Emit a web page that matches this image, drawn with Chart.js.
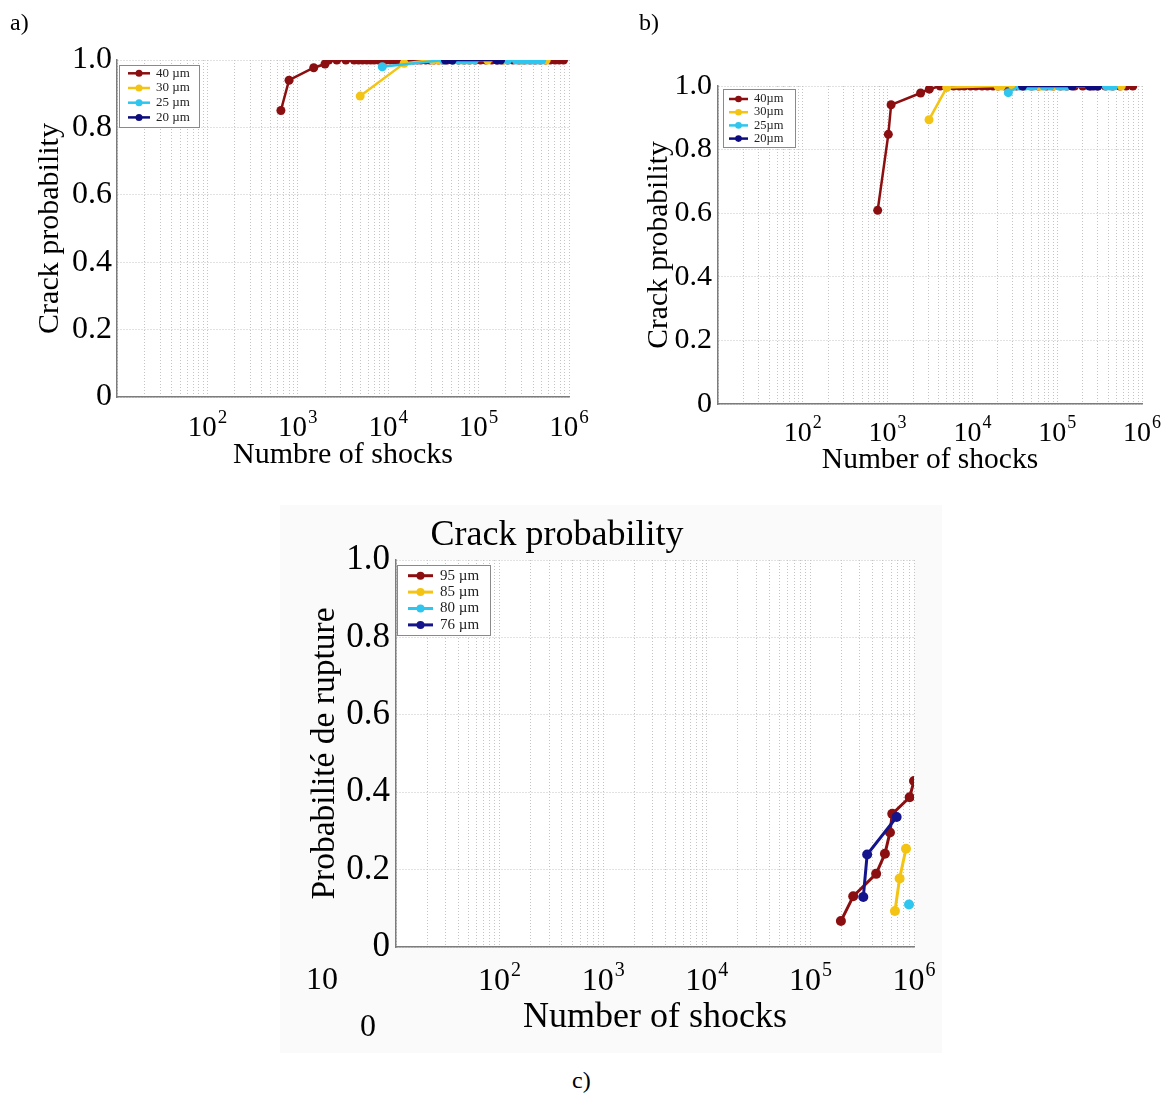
<!DOCTYPE html>
<html>
<head>
<meta charset="utf-8">
<script src="https://cdn.jsdelivr.net/npm/chart.js@4.4.0/dist/chart.umd.min.js"></script>
<style>
  body { margin: 0; background: #fff; width: 1163px; height: 1093px; position: relative; overflow: hidden;
         font-family: "Liberation Serif", "Times New Roman", serif; color: #000; }
  canvas { position: absolute; }
  .txt { position: absolute; line-height: 1; white-space: nowrap; }
</style>
</head>
<body>
<div style="position:absolute;left:280px;top:505px;width:662px;height:548px;background:#fafafa"></div>
<canvas id="chartA" width="600" height="480" style="left:0;top:0"></canvas>
<canvas id="chartB" width="563" height="480" style="left:600px;top:0"></canvas>
<canvas id="chartC" width="660" height="545" style="left:280px;top:505px"></canvas>

<div class="txt" style="left:10px;top:10px;font-size:24px">a)</div>
<div class="txt" style="left:639px;top:10px;font-size:24px">b)</div>
<div class="txt" style="left:572px;top:1068px;font-size:24px">c)</div>
<div class="txt" style="left:557px;top:533px;font-size:36px;transform:translate(-50%,-50%)">Crack probability</div>
<div class="txt" style="left:322px;top:978px;font-size:32px;transform:translate(-50%,-50%)">10</div>
<div class="txt" style="left:368px;top:1025px;font-size:32px;transform:translate(-50%,-50%)">0</div>

<script>
// axis ticks
const decades = [10, 100, 1000, 10000, 100000, 1000000]
const decadeBase = '10'
const decadeExps = ['', '2', '3', '4', '5', '6']
const probTicks = [0, 0.2, 0.4, 0.6, 0.8, 1.0]

// a) 40/30/25/20 µm
const shocksA40 = [650, 800, 1500, 2000, 2200, 2700, 3400, 4200, 4700, 5200, 5800, 6400, 7000, 7800, 8600, 9500,
  10500, 11500, 12700, 14000, 15500, 17000, 19000, 21000, 23000, 26000, 29000, 32000, 36000, 40000, 45000,
  52000, 60000, 70000, 80000, 92000, 105000, 120000, 140000, 160000, 185000, 210000, 240000, 280000, 320000,
  370000, 420000, 480000, 550000, 620000, 700000, 780000, 870000]
const probA40 = [0.85, 0.94, 0.977, 0.988, 1, 1, 1, 1, 1, 1, 1, 1, 1, 1, 1, 1,
  1, 1, 1, 1, 1, 1, 1, 1, 1, 1, 1, 1, 1, 1, 1,
  1, 1, 1, 1, 1, 1, 1, 1, 1, 1, 1, 1, 1, 1,
  1, 1, 1, 1, 1, 1, 1, 1]
const shocksA30 = [4900, 15000, 31000, 36000, 66000, 78000, 126000, 190000, 300000, 560000]
const probA30 = [0.893, 0.99, 1, 1, 1, 1, 1, 1, 1, 1]
const shocksA25 = [8600, 41000, 52000, 60000, 68000, 78000, 90000, 210000, 260000, 300000, 340000, 390000, 440000, 500000]
const probA25 = [0.98, 1, 1, 1, 1, 1, 1, 1, 1, 1, 1, 1, 1, 1]
const shocksA20 = [43000, 51000, 160000, 175000]
const probA20 = [1, 1, 1, 1]

// b) 40/30/25/20 µm
const shocksB40 = [764, 1020, 1100, 2450, 3100, 4170, 6000, 7000, 8000, 9500, 11000, 13000, 15000, 17500,
  20000, 24000, 28000, 33000, 40000, 50000, 60000, 75000, 90000, 110000, 130000, 160000, 200000, 250000,
  300000, 370000, 450000, 550000, 650000, 780000]
const probB40 = [0.609, 0.848, 0.941, 0.978, 0.99, 1, 1, 1, 1, 1, 1, 1, 1, 1,
  1, 1, 1, 1, 1, 1, 1, 1, 1, 1, 1, 1, 1, 1,
  1, 1, 1, 1, 1, 1]
const shocksB30 = [3080, 4980, 20000, 22000, 30000, 62000, 66000, 90000, 570000]
const probB30 = [0.894, 0.995, 1, 1, 1, 1, 1, 1, 1]
const shocksB25 = [26500, 36000, 42000, 48000, 53000, 70000, 83000, 105000, 120000, 130000, 380000, 420000, 460000]
const probB25 = [0.979, 1, 1, 1, 1, 1, 1, 1, 1, 1, 1, 1, 1]
const shocksB20 = [39000, 150000, 240000, 270000, 300000]
const probB20 = [1, 1, 1, 1, 1]

// c) 95/85/80/76 µm
const shocksC95 = [197000, 259000, 431000, 524000, 586000, 617000, 908000, 1000000]
const probC95 = [0.067, 0.131, 0.189, 0.241, 0.296, 0.344, 0.387, 0.429]
const shocksC85 = [655000, 726000, 837000]
const probC85 = [0.093, 0.177, 0.254]
const shocksC80 = [895000]
const probC80 = [0.11]
const shocksC76 = [324000, 353000, 680000]
const probC76 = [0.129, 0.239, 0.336]

const RED = '#8b0f10'
const YELLOW = '#f4c414'
const CYAN = '#2ec6ee'
const NAVY = '#0c0c7e'
const SERIF = '"Liberation Serif", "Times New Roman", serif'

// grid positions 10,20..90,100,200.. for the log axis
const logGrid = []
decades.slice(0, -1).forEach(function (d) {
  for (let k = 1; k <= 9; k++) logGrid.push(k * d)
})
logGrid.push(decades[decades.length - 1])

const whiteArea = {
  id: 'whiteArea',
  beforeDraw(chart) {
    const a = chart.chartArea
    chart.ctx.save()
    chart.ctx.fillStyle = '#fff'
    chart.ctx.fillRect(a.left, a.top, a.right - a.left, a.bottom - a.top)
    chart.ctx.restore()
  }
}

// "10" with a raised exponent under each decade
const decadeText = {
  id: 'decadeText',
  afterDraw(chart, args, o) {
    const ctx = chart.ctx
    const sx = chart.scales.x
    const y = chart.chartArea.bottom + o.base
    const small = Math.round(o.size * 0.64)
    ctx.save()
    ctx.fillStyle = '#000'
    ctx.textAlign = 'left'
    ctx.textBaseline = 'alphabetic'
    decades.forEach(function (d, i) {
      if (!decadeExps[i]) return
      const x = sx.getPixelForValue(d)
      ctx.font = o.size + 'px ' + SERIF
      const wb = ctx.measureText(decadeBase).width
      ctx.font = small + 'px ' + SERIF
      const we = ctx.measureText(decadeExps[i]).width
      const x0 = x - (wb + we + o.gap) / 2
      ctx.font = o.size + 'px ' + SERIF
      ctx.fillText(decadeBase, x0, y)
      ctx.font = small + 'px ' + SERIF
      ctx.fillText(decadeExps[i], x0 + wb + o.gap, y - o.size * 0.45)
    })
    ctx.restore()
  }
}

// legend drawn inside the plot, matlab style
const boxLegend = {
  id: 'boxLegend',
  afterDatasetsDraw(chart, args, o) {
    const ctx = chart.ctx
    const x0 = chart.chartArea.left + o.dx
    const y0 = chart.chartArea.top + o.dy
    ctx.save()
    ctx.fillStyle = '#fff'
    ctx.fillRect(x0, y0, o.w, o.h)
    ctx.strokeStyle = '#8a8a8a'
    ctx.lineWidth = 1
    ctx.strokeRect(x0 + 0.5, y0 + 0.5, o.w, o.h)
    ctx.font = o.size + 'px ' + SERIF
    ctx.textBaseline = 'middle'
    chart.data.datasets.forEach(function (ds, i) {
      const cy = y0 + o.first + i * o.row
      ctx.strokeStyle = ds.borderColor
      ctx.lineWidth = ds.borderWidth
      ctx.beginPath()
      ctx.moveTo(x0 + o.l0, cy)
      ctx.lineTo(x0 + o.l1, cy)
      ctx.stroke()
      ctx.fillStyle = ds.borderColor
      ctx.beginPath()
      ctx.arc(x0 + (o.l0 + o.l1) / 2, cy, o.r, 0, Math.PI * 2)
      ctx.fill()
      ctx.fillStyle = '#222'
      ctx.fillText(ds.label, x0 + o.tx, cy)
    })
    ctx.restore()
  }
}

function makeChart(id, series, cfg) {
  const gridOpts = { color: '#c4c4c4', lineWidth: 1, drawTicks: false }
  const borderOpts = { display: true, color: '#7c7c7c', width: 1.5, dash: [1, 2] }
  return new Chart(document.getElementById(id), {
    type: 'scatter',
    data: {
      datasets: series.map(function (s, i) {
        return {
          label: s.label,
          data: s.x.map(function (v, k) { return { x: v, y: s.y[k] } }),
          showLine: true,
          borderColor: s.color,
          backgroundColor: s.color,
          borderWidth: cfg.lineWidth,
          pointRadius: cfg.radius,
          pointHoverRadius: cfg.radius,
          pointBorderWidth: 0,
          order: series.length - i,
        }
      }),
    },
    options: {
      responsive: false,
      animation: false,
      events: [],
      layout: { padding: { left: 0, top: cfg.top, right: cfg.right, bottom: 0 } },
      plugins: {
        legend: { display: false },
        tooltip: { enabled: false },
        boxLegend: cfg.legend,
        decadeText: { size: cfg.xTickSize, base: cfg.xTickBase, gap: 1 },
      },
      scales: {
        x: {
          type: 'logarithmic',
          min: decades[0],
          max: decades[decades.length - 1],
          afterBuildTicks: function (s) { s.ticks = logGrid.map(function (v) { return { value: v } }) },
          afterFit: function (s) { s.height = cfg.xAxisH },
          ticks: { display: false, padding: 0 },
          grid: gridOpts,
          border: borderOpts,
          title: {
            display: true, text: cfg.xTitle, color: '#000',
            font: { family: SERIF, size: cfg.xTitleSize },
            padding: { top: 0, bottom: cfg.xTitlePad },
          },
        },
        y: {
          min: 0,
          max: 1,
          afterBuildTicks: function (s) { s.ticks = probTicks.map(function (v) { return { value: v } }) },
          afterFit: function (s) { s.width = cfg.yAxisW },
          ticks: {
            padding: cfg.yTickPad, color: '#000',
            font: { family: SERIF, size: cfg.yTickSize },
            callback: function (v) { return v === 0 ? '0' : v.toFixed(1) },
          },
          grid: gridOpts,
          border: borderOpts,
          title: {
            display: true, text: cfg.yTitle, color: '#000',
            font: { family: SERIF, size: cfg.yTitleSize },
            padding: { top: cfg.yTitlePad, bottom: 0 },
          },
        },
      },
    },
    plugins: [whiteArea, boxLegend, decadeText],
  })
}

makeChart('chartA', [
  { label: '40 µm', x: shocksA40, y: probA40, color: RED },
  { label: '30 µm', x: shocksA30, y: probA30, color: YELLOW },
  { label: '25 µm', x: shocksA25, y: probA25, color: CYAN },
  { label: '20 µm', x: shocksA20, y: probA20, color: NAVY },
], {
  top: 60, right: 31, yAxisW: 117, xAxisH: 83,
  xTickSize: 29, xTickBase: 39, yTickSize: 32, yTickPad: 5,
  xTitle: 'Numbre of shocks', xTitleSize: 30, xTitlePad: 7,
  yTitle: 'Crack probability', yTitleSize: 30, yTitlePad: 32,
  lineWidth: 2.5, radius: 4.5,
  legend: { dx: 2, dy: 5, w: 80, h: 62, first: 8.3, row: 14.7, l0: 9, l1: 31, r: 3.5, tx: 37, size: 13 },
})

makeChart('chartB', [
  { label: '40µm', x: shocksB40, y: probB40, color: RED },
  { label: '30µm', x: shocksB30, y: probB30, color: YELLOW },
  { label: '25µm', x: shocksB25, y: probB25, color: CYAN },
  { label: '20µm', x: shocksB20, y: probB20, color: NAVY },
], {
  top: 86, right: 21, yAxisW: 118, xAxisH: 76,
  xTickSize: 28, xTickBase: 37, yTickSize: 30, yTickPad: 6,
  xTitle: 'Number of shocks', xTitleSize: 29.5, xTitlePad: 2,
  yTitle: 'Crack probability', yTitleSize: 29.5, yTitlePad: 42,
  lineWidth: 2.5, radius: 4.5,
  legend: { dx: 5, dy: 3, w: 72, h: 58, first: 10, row: 13.2, l0: 6, l1: 25, r: 3.3, tx: 31, size: 12.5 },
})

makeChart('chartC', [
  { label: '95 µm', x: shocksC95, y: probC95, color: RED },
  { label: '85 µm', x: shocksC85, y: probC85, color: YELLOW },
  { label: '80 µm', x: shocksC80, y: probC80, color: CYAN },
  { label: '76 µm', x: shocksC76, y: probC76, color: '#14148c' },
], {
  top: 55, right: 26, yAxisW: 116, xAxisH: 103,
  xTickSize: 32, xTickBase: 43, yTickSize: 35, yTickPad: 6,
  xTitle: 'Number of shocks', xTitleSize: 36, xTitlePad: 11,
  yTitle: 'Probabilité de rupture', yTitleSize: 33.5, yTitlePad: 25,
  lineWidth: 3, radius: 5,
  legend: { dx: 1, dy: 5, w: 93, h: 70, first: 10.7, row: 16.4, l0: 11, l1: 36, r: 4, tx: 43, size: 15 },
})
</script>
</body>
</html>
